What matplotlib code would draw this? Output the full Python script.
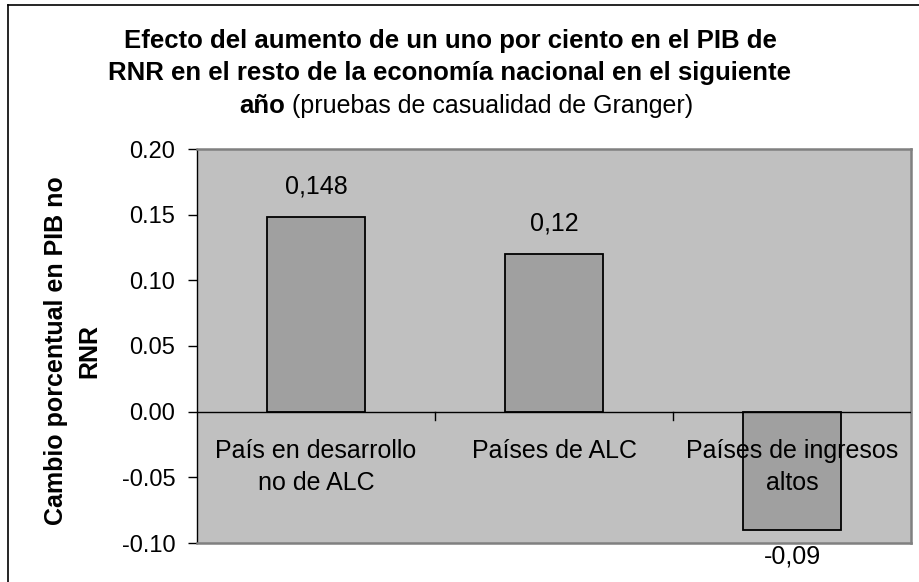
import matplotlib.pyplot as plt
from matplotlib.lines import Line2D

plt.rcParams['font.family'] = ['Liberation Sans', 'DejaVu Sans']

categorias = ['País en desarrollo\nno de ALC', 'Países de ALC', 'Países de ingresos\naltos']
valores = [0.148, 0.12, -0.09]
etiquetas = ['0,148', '0,12', '-0,09']
yticks = [-0.10, -0.05, 0.00, 0.05, 0.10, 0.15, 0.20]

W, H = 919, 582

fig = plt.figure(figsize=(W / 100, H / 100), dpi=100)
ax = fig.add_axes([197/W, 1 - 543/H, (911-197)/W, (543-149)/H])
ax.set_facecolor('#C0C0C0')

x = list(range(len(categorias)))
ax.bar(x, valores, width=0.41, color='#A0A0A0', edgecolor='black', linewidth=1.3, zorder=3)

ax.set_xlim(-0.5, 2.5)
ax.set_ylim(-0.10, 0.20)
ax.set_yticks(yticks)
ax.set_yticklabels(['%.2f' % v for v in yticks], fontsize=17)
ax.tick_params(axis='y', length=6.5, width=1, pad=9)
ax.set_xticks([])

for s in ax.spines.values():
    s.set_color('#808080')
    s.set_linewidth(1.8)
ax.spines['left'].set_color('black')
ax.spines['left'].set_linewidth(1)

# eje de categorias en cero
ax.axhline(0, color='black', linewidth=1, zorder=4)
for b in [0.5, 1.5]:
    ax.plot([b, b], [0, -0.006], color='black', linewidth=1, zorder=4)

for i, c in enumerate(categorias):
    ax.text(i, -0.021, c, ha='center', va='top', fontsize=18, zorder=5, linespacing=1.4)

for i, (v, t) in enumerate(zip(valores, etiquetas)):
    if v >= 0:
        ax.text(i, v + 0.014, t, ha='center', va='bottom', fontsize=18, zorder=5)
    else:
        ax.text(i, v - 0.011, t, ha='center', va='top', fontsize=18, zorder=5, clip_on=False)

fig.text(56/W, 1 - 351/H, 'Cambio porcentual en PIB no', rotation=90, ha='center', va='center',
         fontsize=18, fontweight='bold')
fig.text(89/W, 1 - 351/H, 'RNR', rotation=90, ha='center', va='center',
         fontsize=18, fontweight='bold')

fig.text(450/W, 1 - 48/H, 'Efecto del aumento de un uno por ciento en el PIB de',
         ha='center', va='baseline', fontsize=18.5, fontweight='bold')
fig.text(450/W, 1 - 80/H, 'RNR en el resto de la economía nacional en el siguiente',
         ha='center', va='baseline', fontsize=18.5, fontweight='bold')

# tercera linea del titulo: parte en negrita y parte normal, centradas juntas
r = fig.canvas.get_renderer()
t1 = fig.text(0, 1 - 113/H, 'año', ha='left', va='baseline', fontsize=18.5, fontweight='bold')
t2 = fig.text(0, 1 - 113/H, ' (pruebas de casualidad de Granger)', ha='left', va='baseline', fontsize=18)
w1 = t1.get_window_extent(r).width
w2 = t2.get_window_extent(r).width
x0 = 466 - (w1 + w2) / 2
t1.set_x(x0 / W)
t2.set_x((x0 + w1) / W)

# marco exterior
fig.add_artist(Line2D([8/W, 8/W], [0, 1 - 5/H], color='black', linewidth=1.2))
fig.add_artist(Line2D([8/W, 1], [1 - 5/H, 1 - 5/H], color='black', linewidth=1.2))

fig.savefig('out.png', dpi=100)
